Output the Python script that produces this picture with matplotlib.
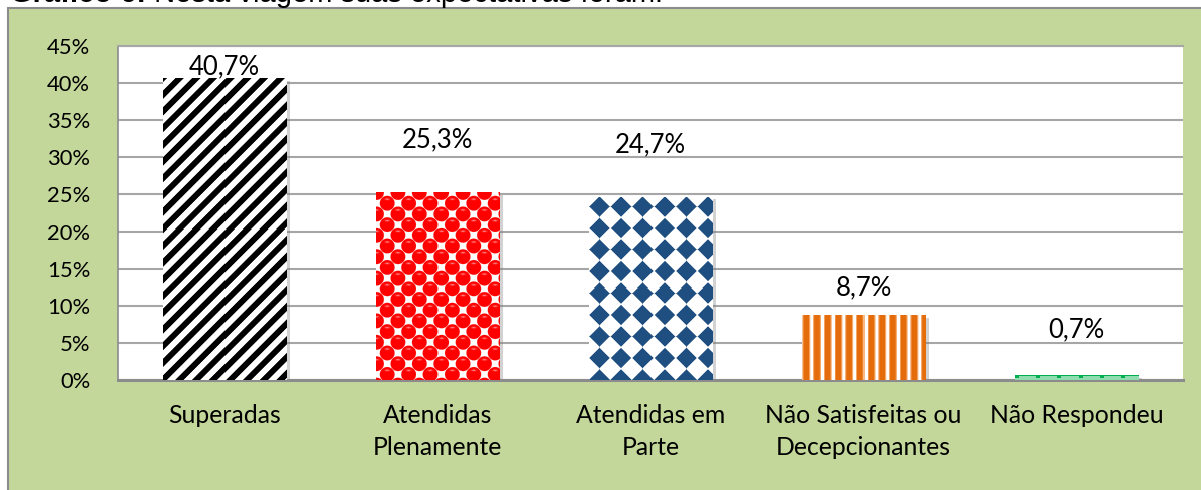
import numpy as np
import matplotlib
matplotlib.use("Agg")
import matplotlib.pyplot as plt
from matplotlib.patches import Rectangle
import matplotlib.patheffects as pe

# ---------------- data ----------------
categories = ["Superadas", "Atendidas\nPlenamente", "Atendidas em\nParte",
              "Não Satisfeitas ou\nDecepcionantes", "Não Respondeu"]
values = [40.7, 25.3, 24.7, 8.7, 0.7]
value_labels = ["40,7%", "25,3%", "24,7%", "8,7%", "0,7%"]
y_ticks = [0, 5, 10, 15, 20, 25, 30, 35, 40, 45]
y_tick_labels = ["0%", "5%", "10%", "15%", "20%", "25%", "30%", "35%", "40%", "45%"]
title_bold = "Gráfico 6:"
title_rest = " Nesta viagem suas expectativas foram:"

# ---------------- style ----------------
W, H, DPI = 1201, 490, 100
BG_GREEN = "#c4d79b"
GRID = "#a6a6a6"
label_offset_px = [11, 52, 52, 28, 45]
FONT = "Lato"

fig = plt.figure(figsize=(W / DPI, H / DPI), dpi=DPI)
fig.patch.set_facecolor("white")

# green chart frame
frame = Rectangle((8 / W, -0.01), 1.0, (H - 8) / H + 0.01, transform=fig.transFigure,
                  facecolor=BG_GREEN, edgecolor="#8c8c8c", linewidth=1.5, zorder=-5)
fig.add_artist(frame)

ax = fig.add_axes([118 / W, (H - 380) / H, (1183 - 118) / W, (380 - 46) / H])
ax.set_facecolor("white")
ax.set_xlim(-0.5, len(categories) - 0.5)
ax.set_ylim(0, 45)

ax.spines["right"].set_visible(False)
ax.spines["top"].set_color(GRID)
ax.spines["top"].set_linewidth(1.5)
ax.spines["left"].set_color("#8c8c8c")
ax.spines["left"].set_linewidth(1.2)
ax.spines["bottom"].set_color("#8c8c8c")
ax.spines["bottom"].set_linewidth(2.2)

ax.set_yticks(y_ticks)
ax.set_yticklabels(y_tick_labels, fontsize=15.8, family=FONT)
ax.set_xticks(range(len(categories)))
ax.set_xticklabels(categories, fontsize=17.8, family=FONT, linespacing=1.5)
ax.tick_params(axis="both", length=0)
ax.tick_params(axis="y", pad=20)
ax.tick_params(axis="x", pad=17)
ax.yaxis.grid(True, color=GRID, linewidth=1.5)
ax.set_axisbelow(True)

bars = ax.bar(range(len(categories)), values, width=0.578, color="white",
              edgecolor="none", zorder=2)
for b in bars:
    b.set_path_effects([pe.SimplePatchShadow(offset=(2.5, -2), shadow_rgbFace="#7f7f7f",
                                             alpha=0.35), pe.Normal()])


def hexrgb(h):
    h = h.lstrip("#")
    return np.array([int(h[i:i + 2], 16) / 255 for i in (0, 2, 4)])


def smooth(v, k):
    return np.clip(v * k + 0.5, 0, 1)


def tex_diag(hp, wp):
    r, x = np.mgrid[0:hp, 0:wp].astype(float)
    P = 16.7
    c = np.cos(2 * np.pi * (x + r) / P)
    a = smooth(c, 2.2)
    return np.ones((hp, wp, 3)) * (1 - a)[..., None]


def tex_red(hp, wp):
    r, x = np.mgrid[0:hp, 0:wp].astype(float)
    P = 10.7

    def d(ox, oy):
        dx = ((x - ox + P) % (2 * P)) - P
        dy = ((r - oy + P) % (2 * P)) - P
        return dx, dy
    dxa, dya = d(0, 0)
    dxb, dyb = d(P, P)
    da = np.hypot(dxa, dya)
    db = np.hypot(dxb, dyb)
    use_a = da < db
    dx = np.where(use_a, dxa, dxb)
    dy = np.where(use_a, dya, dyb)
    dist = np.minimum(da, db)
    a = smooth(7.4 - dist, 0.9)
    red = hexrgb("#ff0000")
    img = np.ones((hp, wp, 3)) * (1 - a)[..., None] + red * a[..., None]
    hl = np.exp(-((dx / 2.2) ** 2 + ((dy + 4.0) / 0.9) ** 2))
    img = img * (1 - 0.5 * hl[..., None]) + 0.5 * hl[..., None]
    return img


def tex_diamond(hp, wp):
    r, x = np.mgrid[0:hp, 0:wp].astype(float)
    P = 21.5
    dx = ((x + P / 2 - 10) % P) - P / 2
    dy = ((r + P / 2 - 10) % P) - P / 2
    dd = np.abs(dx) + np.abs(dy)
    a = smooth(10.2 - dd, 0.8)
    blue = hexrgb("#1f4e80")
    return np.ones((hp, wp, 3)) * (1 - a)[..., None] + blue * a[..., None]


def tex_orange(hp, wp):
    r, x = np.mgrid[0:hp, 0:wp].astype(float)
    P = 10.7
    ph = (x % P)
    core = smooth(2.8 - np.abs(ph - 3.8), 1.0)
    edge = smooth(4.0 - np.abs(ph - 3.8), 1.0)
    org = hexrgb("#e46c0a")
    light = hexrgb("#f5a868")
    img = np.ones((hp, wp, 3))
    img = img * (1 - edge)[..., None] + light * edge[..., None]
    img = img * (1 - core)[..., None] + org * core[..., None]
    return img


def tex_green(hp, wp):
    r, x = np.mgrid[0:hp, 0:wp].astype(float)
    base = hexrgb("#8fdcae")
    top = hexrgb("#00b050")
    img = np.ones((hp, wp, 3)) * base
    img[:2] = top
    dots = ((x % 21) < 4) & (r < 3)
    img[dots] = top
    return img


textures = [tex_diag, tex_red, tex_diamond, tex_orange, tex_green]

for b, tex in zip(bars, textures):
    x0, y0 = b.get_x(), b.get_y()
    x1, y1 = x0 + b.get_width(), y0 + b.get_height()
    (px0, py0), (px1, py1) = ax.transData.transform([(x0, y0), (x1, y1)])
    wp = max(int(round(px1 - px0)), 1)
    hp = max(int(round(py1 - py0)), 1)
    img = tex(hp, wp)
    im = ax.imshow(img, extent=(x0, x1, y0, y1), aspect="auto",
                   interpolation="nearest", zorder=3)
    im.set_clip_path(b)

ax.set_xlim(-0.5, len(categories) - 0.5)
ax.set_ylim(0, 45)

for b, lab, off in zip(bars, value_labels, label_offset_px):
    ax.annotate(lab, (b.get_x() + b.get_width() / 2, b.get_height()),
                xytext=(0, off), textcoords="offset pixels",
                ha="center", va="center", fontsize=18.5, family=FONT,
                color="black", zorder=5)

# truncated title at the very top (as in the reference)
t1 = fig.text(10 / W, 1 - 2.5 / H, title_bold, fontsize=21, fontweight="bold",
              family="Liberation Sans", va="baseline", ha="left")
fig.canvas.draw()
bb = t1.get_window_extent()
fig.text(bb.x1 / W, 1 - 2.5 / H, title_rest, fontsize=21,
         family="Liberation Sans", va="baseline", ha="left")

fig.savefig("out.png", dpi=DPI, facecolor=fig.get_facecolor())
